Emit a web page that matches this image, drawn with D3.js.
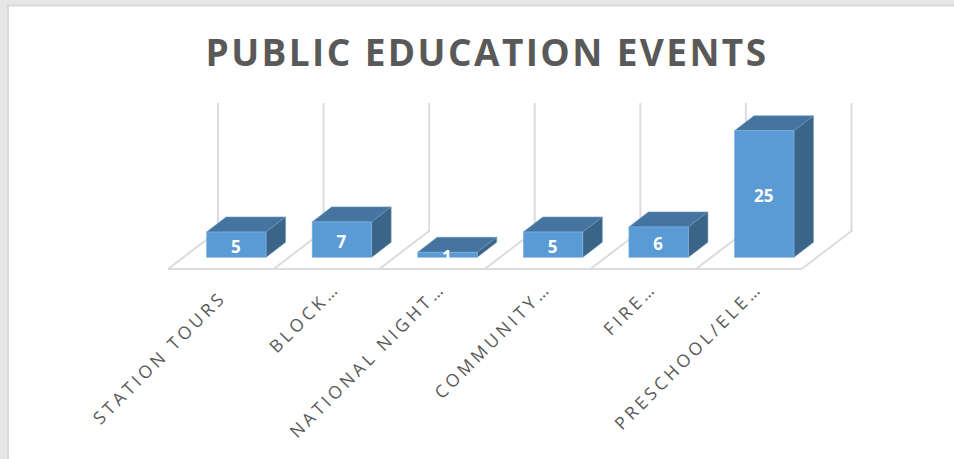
<!DOCTYPE html>
<html><head><meta charset="utf-8">
<script src="https://cdn.jsdelivr.net/npm/d3@7"></script>
<style>html,body{margin:0;padding:0;background:#e6e6e6;overflow:hidden}text{opacity:.995}</style>
</head><body><svg id="c" width="954" height="459"></svg>
<script>
const categories = ["STATION TOURS","BLOCK…","NATIONAL NIGHT…","COMMUNITY…","FIRE…","PRESCHOOL/ELE…"];
const values = [5,7,1,5,6,25];
const titleText = "PUBLIC EDUCATION EVENTS";

const svg = d3.select("#c");
svg.append("rect").attr("x",8).attr("y",6).attr("width",946).attr("height",453)
  .attr("fill","#fff");
svg.append("path").attr("d","M8,459V5.5H954").attr("fill","none").attr("stroke","#d9d9d9").attr("stroke-width",2);

svg.append("text").attr("x",487).attr("y",66).attr("text-anchor","middle")
  .attr("font-family","'Open Sans'").attr("font-weight",700).attr("font-size",37)
  .attr("letter-spacing",2.4).attr("fill","#595959").text(titleText);

const floorY=269, wallTop=103;
const depth={x:50,y:-38}, barDepth={x:19.5,y:-15};
const x=d3.scaleBand().domain(categories).range([168,801.5]).paddingInner(0).paddingOuter(0);
const y=d3.scaleLinear().domain([0,25]).range([257.3,130.8]);
const barW=59.5;
const bx=c=>x(c)+(x.bandwidth()-barW)/2+15.5;

const grid=svg.append("g").attr("stroke","#dcdcdc").attr("stroke-width",2).attr("fill","none");
const edges=d3.range(categories.length+1).map(i=>168+i*x.step());
grid.append("line").attr("x1",edges[0]).attr("x2",edges[6]).attr("y1",floorY).attr("y2",floorY);
grid.selectAll("path").data(edges).join("path")
  .attr("d",e=>`M${e},${floorY}L${e+depth.x},${floorY+depth.y}V${wallTop}`);

const bars=svg.append("g").selectAll("g").data(categories.map((c,i)=>({c,v:values[i]}))).join("g");
bars.append("path").attr("fill","#44749f").attr("stroke","#6f97bd").attr("stroke-width",.6)
  .attr("d",d=>{const l=bx(d.c),t=y(d.v);return `M${l},${t}l${barDepth.x},${barDepth.y}h${barW}l${-barDepth.x},${-barDepth.y}z`;});
bars.append("path").attr("fill","#3a6587").attr("stroke","#6f97bd").attr("stroke-width",.6)
  .attr("d",d=>{const r=bx(d.c)+barW,t=y(d.v),b=y(0);return `M${r},${t}l${barDepth.x},${barDepth.y}V${b+barDepth.y}L${r},${b}z`;});
bars.append("rect").attr("fill","#5b9bd5").attr("stroke","#86b5e0").attr("stroke-width",.6)
  .attr("x",d=>bx(d.c)).attr("y",d=>y(d.v)).attr("width",barW).attr("height",d=>y(0)-y(d.v));
bars.append("text").attr("x",d=>bx(d.c)+barW/2-.5).attr("y",d=>(y(d.v)+y(0))/2+8)
  .attr("text-anchor","middle").attr("font-family","'Open Sans'").attr("font-weight",700)
  .attr("font-size",17).attr("fill","#fff").text(d=>d.v);

svg.append("g").selectAll("text").data(categories).join("text")
  .attr("transform",(c,i)=>`translate(${x(c)+x.bandwidth()/2+(i===0?-2:6)},${i===0?290:281}) rotate(-45)`)
  .attr("text-anchor","end").attr("dy","0.7em")
  .attr("font-family","'Open Sans'").attr("font-size",17.5).attr("letter-spacing",3.6)
  .attr("fill","#595959").text(c=>c);
</script></body></html>
